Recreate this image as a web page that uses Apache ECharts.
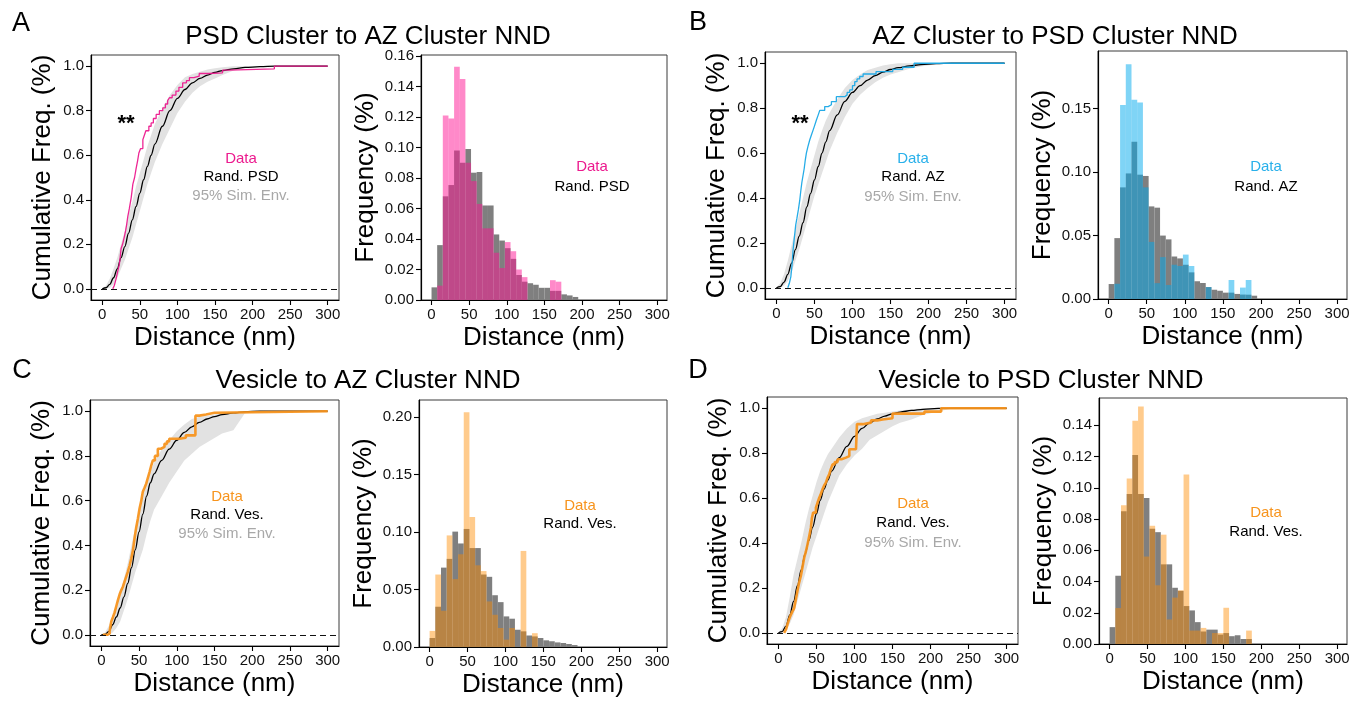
<!DOCTYPE html>
<html><head><meta charset="utf-8">
<script src="https://cdn.jsdelivr.net/npm/echarts@6/dist/echarts.min.js"></script>
<style>html,body{margin:0;padding:0;background:#fff}#c{width:1366px;height:705px}</style>
</head><body><div id="c"></div>
<script>
const FONT = '"Liberation Sans", Arial, Helvetica, sans-serif';
const BIN_WIDTH = 7.5;
const xTicks = [0, 50, 100, 150, 200, 250, 300];
const cdfYTicks = [0, 0.2, 0.4, 0.6, 0.8, 1.0];
const histYTicksA = [0, 0.02, 0.04, 0.06, 0.08, 0.10, 0.12, 0.14, 0.16];
const histYTicksB = [0, 0.05, 0.10, 0.15];
const histYTicksC = [0, 0.05, 0.10, 0.15, 0.20];
const histYTicksD = [0, 0.02, 0.04, 0.06, 0.08, 0.10, 0.12, 0.14];

// common x grid for simulated curves (nm)
const simX = [0,5,10,15,20,25,30,35,40,45,50,55,60,65,70,80,90,100,110,120,130,140,150,160,175,190,210,230];

// ---------- Panel A: PSD Cluster to AZ Cluster NND ----------
const aRand  = [0,0.005,0.02,0.05,0.09,0.14,0.19,0.25,0.31,0.37,0.43,0.49,0.55,0.60,0.65,0.73,0.80,0.855,0.895,0.925,0.945,0.96,0.972,0.98,0.988,0.994,0.998,1.0];
const aEnvUp = [0,0.015,0.045,0.09,0.14,0.2,0.26,0.33,0.39,0.46,0.52,0.58,0.64,0.69,0.74,0.81,0.87,0.915,0.95,0.965,0.975,0.985,0.99,0.995,1,1,1,1];
const aEnvLo = [0,0,0.005,0.02,0.05,0.09,0.13,0.18,0.23,0.29,0.35,0.41,0.47,0.52,0.57,0.65,0.72,0.79,0.84,0.88,0.91,0.93,0.945,0.96,0.98,0.99,0.997,1];
const aDataX = [14,16,18,20,22,23,25,27,29.6,31,32.5,34,36,38.5,40.7,43,45,47,48.7,51,54,56,58,62,65,68,71.7,76,80.5,84,87,89.4,93,98,102,107,112,116,122,129,142,160,169,229,300];
const aDataY = [0,0.015,0.04,0.07,0.1,0.117,0.18,0.2,0.237,0.26,0.29,0.326,0.36,0.41,0.47,0.5,0.54,0.575,0.61,0.63,0.67,0.69,0.71,0.73,0.745,0.765,0.783,0.8,0.813,0.83,0.845,0.858,0.87,0.888,0.905,0.925,0.935,0.948,0.955,0.967,0.97,0.982,0.988,1.0,1.0];
const aHistRand = [0.0083,0.036,0.068,0.0754,0.098,0.090,0.099,0.0835,0.084,0.062,0.062,0.043,0.039,0.034,0.027,0.0164,0.012,0.011,0.010,0.008,0.008,0.006,0.006,0.0037,0.003,0.002];
const aHistData = [0,0.0094,0.121,0.119,0.153,0.145,0.090,0.078,0.063,0.047,0.047,0.031,0.021,0.038,0.032,0.020,0.015,0,0,0,0,0.013,0.012,0,0,0];

// ---------- Panel B: AZ Cluster to PSD Cluster NND ----------
const bRand  = [0,0.005,0.025,0.06,0.11,0.17,0.23,0.29,0.36,0.42,0.48,0.54,0.60,0.65,0.70,0.77,0.83,0.87,0.90,0.925,0.945,0.96,0.972,0.98,0.988,0.994,0.998,1];
const bEnvUp = [0,0.02,0.06,0.12,0.19,0.26,0.33,0.40,0.47,0.53,0.59,0.65,0.70,0.745,0.78,0.84,0.89,0.925,0.95,0.97,0.98,0.99,0.995,1,1,1,1,1];
const bEnvLo = [0,0,0.01,0.03,0.07,0.12,0.17,0.23,0.29,0.35,0.41,0.46,0.51,0.56,0.61,0.69,0.76,0.82,0.86,0.89,0.915,0.935,0.95,0.96,0.975,0.985,0.995,1];
const bDataX = [15,17,19,20.5,21.9,23.5,25.4,27,29,30.7,32,33.5,35,36.5,38,39.4,41.5,43.8,46,48,50,52.6,55,57,63.5,68,72.3,78.8,89.8,93,96.4,100,103,106,109.5,114,131,153,166,181,300];
const bDataY = [0,0.02,0.05,0.1,0.168,0.22,0.28,0.31,0.35,0.39,0.43,0.47,0.5,0.53,0.57,0.6,0.63,0.658,0.68,0.70,0.72,0.747,0.77,0.79,0.807,0.815,0.829,0.851,0.859,0.87,0.881,0.9,0.918,0.93,0.941,0.952,0.963,0.973,0.982,1.0,1.0];
const bHistRand = [0.0118,0.048,0.088,0.099,0.124,0.098,0.097,0.073,0.072,0.05,0.047,0.0335,0.032,0.027,0.021,0.014,0.0126,0.0094,0.0073,0.0065,0.005,0.005,0.004,0.0035,0.0034,0.0026];
const bHistData = [0,0.012,0.153,0.185,0.157,0.155,0.088,0.045,0.0125,0.033,0.011,0.027,0.026,0.035,0.026,0,0,0.0094,0,0,0,0.015,0,0.009,0.015,0];

// ---------- Panel C: Vesicle to AZ Cluster NND ----------
const cRand  = [0,0.002,0.015,0.045,0.08,0.12,0.17,0.23,0.30,0.38,0.46,0.54,0.62,0.68,0.72,0.78,0.83,0.87,0.905,0.93,0.95,0.965,0.976,0.985,0.992,0.997,1,1];
const cEnvUp = [0,0.01,0.04,0.08,0.13,0.19,0.25,0.32,0.40,0.48,0.55,0.62,0.68,0.73,0.77,0.83,0.87,0.91,0.94,0.965,0.975,0.98,0.985,0.99,0.996,1,1,1];
const cEnvLo = [0,0,0,0.01,0.03,0.06,0.11,0.16,0.22,0.28,0.33,0.38,0.45,0.51,0.56,0.62,0.68,0.73,0.78,0.81,0.84,0.86,0.88,0.9,0.915,0.99,1,1];
const cDataX = [2,8,11,13.2,15.5,17.6,20,22,24.2,26.5,28.6,31,33,35,37.5,39.6,42,44,46,48.5,50.7,53,55,57,59.5,61.5,63.9,66,68.3,71,74.9,79,83.7,87,90,103.5,112,124.7,130,138.8,150,300];
const cDataY = [0,0.005,0.015,0.06,0.08,0.1,0.13,0.155,0.18,0.2,0.215,0.24,0.26,0.28,0.31,0.34,0.38,0.43,0.475,0.52,0.565,0.6,0.64,0.655,0.676,0.7,0.728,0.755,0.78,0.8,0.832,0.84,0.854,0.865,0.877,0.881,0.892,0.98,0.985,0.993,1.0,1.0];
const cHistRand = [0.0078,0.035,0.069,0.0766,0.1003,0.09,0.1026,0.086,0.086,0.063,0.061,0.045,0.039,0.0266,0.0246,0.015,0.0136,0.01,0.0092,0.0078,0.0058,0.005,0.004,0.0035,0.0026,0.0017];
const cHistData = [0.014,0.063,0.0315,0.097,0.059,0.0806,0.204,0.113,0.071,0.066,0.0396,0.028,0.0165,0.0064,0.0165,0,0.0835,0,0.012,0,0,0,0,0,0,0];

// ---------- Panel D: Vesicle to PSD Cluster NND ----------
const dRand  = [0,0.005,0.03,0.08,0.14,0.21,0.28,0.35,0.41,0.47,0.53,0.59,0.64,0.68,0.72,0.78,0.83,0.875,0.91,0.935,0.952,0.965,0.975,0.983,0.99,0.995,0.999,1];
const dEnvUp = [0,0.02,0.07,0.16,0.26,0.33,0.40,0.48,0.55,0.61,0.67,0.72,0.76,0.795,0.82,0.87,0.91,0.94,0.955,0.965,0.975,0.98,0.985,0.99,0.995,1,1,1];
const dEnvLo = [0,0,0.01,0.04,0.08,0.14,0.2,0.26,0.32,0.38,0.43,0.48,0.53,0.58,0.62,0.7,0.75,0.79,0.82,0.86,0.88,0.9,0.92,0.935,0.95,0.97,0.985,1];
const dDataX = [7.5,10,11.9,14,16.3,18.5,20.7,23,25,27,29.5,31.5,33.9,36,38.3,40.5,42.7,44,45.7,49.3,51.5,53.6,56,58,60,62.4,64.5,66.8,69,71.2,74,77.8,83,88.8,93.2,102,103.3,110.8,121.8,130,137,150,192,214,300];
const dDataY = [0,0.015,0.037,0.06,0.08,0.095,0.11,0.15,0.186,0.22,0.253,0.29,0.334,0.36,0.394,0.43,0.468,0.51,0.535,0.557,0.58,0.60,0.62,0.639,0.655,0.669,0.69,0.706,0.73,0.75,0.76,0.773,0.78,0.787,0.817,0.825,0.929,0.936,0.946,0.95,0.955,0.976,0.985,1.0,1.0];
const dHistRand = [0.0108,0.0437,0.085,0.096,0.121,0.096,0.0935,0.0738,0.0716,0.051,0.051,0.036,0.034,0.0243,0.0215,0.014,0.008,0.0092,0.0092,0.006,0.007,0.005,0.0056,0.0032,0.0032,0];
const dHistData = [0,0.023,0.0888,0.106,0.143,0.152,0.056,0.0757,0.0376,0.07,0.0157,0.0297,0.0344,0.1086,0.0086,0.0086,0.0103,0,0.007,0.007,0.0232,0,0,0,0.0086,0];

// ---------- layout ----------
const grids = [
  {left: 91,   top: 55,  width: 248, height: 245},   // A cdf
  {left: 421,  top: 55,  width: 246, height: 245},   // A hist
  {left: 765,  top: 52,  width: 251, height: 247},   // B cdf
  {left: 1098, top: 51,  width: 249, height: 248},   // B hist
  {left: 90,   top: 400, width: 249, height: 246},   // C cdf
  {left: 419,  top: 400, width: 248, height: 247},   // C hist
  {left: 767,  top: 397, width: 251, height: 247},   // D cdf
  {left: 1099, top: 398, width: 248, height: 246}    // D hist
];

const panels = [
  {cdf: {rand: aRand, up: aEnvUp, lo: aEnvLo, dx: aDataX, dy: aDataY}, hist: {rand: aHistRand, data: aHistData, ticks: histYTicksA, max: 0.1607},
   line: '#ec1a8e', fill: 'rgba(255,20,147,0.5)', text: '#ec1a8e', lw: 1.3, lbl: 'Rand. PSD'},
  {cdf: {rand: bRand, up: bEnvUp, lo: bEnvLo, dx: bDataX, dy: bDataY}, hist: {rand: bHistRand, data: bHistData, ticks: histYTicksB, max: 0.1955},
   line: '#1aa8e6', fill: 'rgba(0,170,238,0.5)', text: '#29b0ea', lw: 1.3, lbl: 'Rand. AZ'},
  {cdf: {rand: cRand, up: cEnvUp, lo: cEnvLo, dx: cDataX, dy: cDataY}, hist: {rand: cHistRand, data: cHistData, ticks: histYTicksC, max: 0.2147},
   line: '#f7931e', fill: 'rgba(255,140,0,0.45)', text: '#f7941d', lw: 2.6, lbl: 'Rand. Ves.'},
  {cdf: {rand: dRand, up: dEnvUp, lo: dEnvLo, dx: dDataX, dy: dDataY}, hist: {rand: dHistRand, data: dHistData, ticks: histYTicksD, max: 0.1575},
   line: '#f7931e', fill: 'rgba(255,140,0,0.45)', text: '#f7941d', lw: 2.6, lbl: 'Rand. Ves.'}
];

const gridOpts = grids.map(g => Object.assign({}, g, {
  show: true, borderColor: '#3a3a3a', borderWidth: 1, backgroundColor: 'rgba(0,0,0,0)', outerBoundsMode: 'none', containLabel: false
}));

function xAxisFor(gi, isHist) {
  return {
    type: 'value', gridIndex: gi, min: isHist ? -14 : -15, max: isHist ? 313 : 315,
    axisLine: {show: true, onZero: false, lineStyle: {color: '#000', width: 1.2}},
    axisTick: {show: true, inside: false, length: 5, customValues: xTicks, lineStyle: {color: '#000', width: 1.1}},
    axisLabel: {show: true, customValues: xTicks, fontSize: 15, color: '#111', fontFamily: FONT, margin: 7},
    splitLine: {show: false},
    name: 'Distance (nm)', nameLocation: 'middle', nameGap: 25,
    nameTextStyle: {fontSize: 26, color: '#000', fontFamily: FONT}
  };
}
function yAxisFor(gi, ticks, min, max, digits, name, gap) {
  return {
    type: 'value', gridIndex: gi, min: min, max: max,
    axisLine: {show: true, onZero: false, lineStyle: {color: '#000', width: 1.2}},
    axisTick: {show: true, inside: false, length: 5, customValues: ticks, lineStyle: {color: '#000', width: 1.1}},
    axisLabel: {show: true, customValues: ticks, fontSize: 15, color: '#111', fontFamily: FONT, margin: 7,
      formatter: v => Number(v).toFixed(digits)},
    splitLine: {show: false},
    name: name, nameLocation: 'middle', nameGap: gap,
    nameTextStyle: {fontSize: 26, color: '#000', fontFamily: FONT}
  };
}

const xAxes = [], yAxes = [], series = [];

panels.forEach((p, pi) => {
  const gC = pi * 2, gH = pi * 2 + 1;
  xAxes.push(xAxisFor(gC, false));
  xAxes.push(xAxisFor(gH, true));
  yAxes.push(yAxisFor(gC, cdfYTicks, -0.05, 1.05, 1, 'Cumulative Freq. (%)', 35));
  yAxes.push(yAxisFor(gH, p.hist.ticks, 0, p.hist.max, 2, 'Frequency (%)', 42));

  const up = p.cdf.up, lo = p.cdf.lo;
  // 95% simulation envelope
  series.push({
    type: 'custom', xAxisIndex: gC, yAxisIndex: gC, silent: true, z: 1, clip: true,
    data: simX.map((x, k) => [x, lo[k], up[k]]),
    encode: {x: 0, y: [1, 2]},
    renderItem: (params, api) => {
      if (params.dataIndex !== 0) return null;
      const pts = [];
      for (let k = 0; k < simX.length; k++) pts.push(api.coord([simX[k], up[k]]));
      pts.push(api.coord([300, 1]));
      for (let k = simX.length - 1; k >= 0; k--) pts.push(api.coord([simX[k], lo[k]]));
      return {type: 'polygon', shape: {points: pts}, style: {fill: '#e2e2e2'}};
    }
  });
  // random (simulated mean) curve
  series.push({
    type: 'line', xAxisIndex: gC, yAxisIndex: gC, z: 3, symbol: 'none', silent: true,
    smooth: 0.35, smoothMonotone: 'x',
    data: simX.map((x, k) => [x, p.cdf.rand[k]]).concat([[300, 1]]),
    lineStyle: {color: '#000', width: 1.3},
    markLine: {silent: true, symbol: ['none', 'none'], label: {show: false}, animation: false,
      lineStyle: {color: '#111', type: [6, 4], width: 1.2}, data: [{yAxis: 0}]}
  });
  // data ECDF
  series.push({
    type: 'line', xAxisIndex: gC, yAxisIndex: gC, z: 4, symbol: 'none', silent: true, step: 'end',
    data: p.cdf.dx.map((x, k) => [x, p.cdf.dy[k]]),
    lineStyle: {color: p.line, width: p.lw, opacity: 0.95}
  });

  // histograms
  const barSeries = (vals, color, z) => ({
    type: 'custom', xAxisIndex: gH, yAxisIndex: gH, silent: true, z: z, clip: true,
    data: vals.map((h, k) => [k * BIN_WIDTH, h]),
    encode: {x: 0, y: 1},
    renderItem: (params, api) => {
      const x0 = api.value(0), h = api.value(1);
      if (!h) return null;
      const a = api.coord([x0, h]), b = api.coord([x0 + BIN_WIDTH, 0]);
      return {type: 'rect', shape: {x: a[0], y: a[1], width: b[0] - a[0], height: b[1] - a[1]}, style: {fill: color}};
    }
  });
  series.push(barSeries(p.hist.rand, '#7f7f7f', 2));
  series.push(barSeries(p.hist.data, p.fill, 3));
});

// ---------- texts ----------
const txt = (s, x, y, size, color, weight) => ({
  type: 'text', x: x, y: y, silent: true, z: 100,
  style: {text: s, fontSize: size, fontFamily: FONT, fill: color, fontWeight: weight || 'normal', align: 'center', verticalAlign: 'middle'}
});
const graphics = [
  txt('A', 21, 24, 27, '#000'), txt('B', 698, 23, 27, '#000'),
  txt('C', 22, 371, 27, '#000'), txt('D', 698, 371, 27, '#000'),
  txt('PSD Cluster to AZ Cluster NND', 368, 37, 26, '#000'),
  txt('AZ Cluster to PSD Cluster NND', 1055, 37, 26, '#000'),
  txt('Vesicle to AZ Cluster NND', 368, 381, 26, '#000'),
  txt('Vesicle to PSD Cluster NND', 1041, 381, 26, '#000'),
  txt('**', 126, 124, 22, '#000', 'bold'), txt('**', 800, 124, 22, '#000', 'bold'),
  // CDF legends
  txt('Data', 241, 159, 15, panels[0].text), txt('Rand. PSD', 241, 177, 15, '#000'), txt('95% Sim. Env.', 241, 196, 15, '#a8a8a8'),
  txt('Data', 913, 159, 15, panels[1].text), txt('Rand. AZ', 913, 177, 15, '#000'), txt('95% Sim. Env.', 913, 197, 15, '#a8a8a8'),
  txt('Data', 227, 497, 15, panels[2].text), txt('Rand. Ves.', 227, 515, 15, '#000'), txt('95% Sim. Env.', 227, 534, 15, '#a8a8a8'),
  txt('Data', 913, 504, 15, panels[3].text), txt('Rand. Ves.', 913, 523, 15, '#000'), txt('95% Sim. Env.', 913, 543, 15, '#a8a8a8'),
  // histogram legends
  txt('Data', 592, 167, 15, panels[0].text), txt('Rand. PSD', 592, 187, 15, '#000'),
  txt('Data', 1266, 167, 15, panels[1].text), txt('Rand. AZ', 1266, 187, 15, '#000'),
  txt('Data', 580, 506, 15, panels[2].text), txt('Rand. Ves.', 580, 524, 15, '#000'),
  txt('Data', 1266, 513, 15, panels[3].text), txt('Rand. Ves.', 1266, 532, 15, '#000')
];

const chart = echarts.init(document.getElementById('c'), null, {renderer: 'canvas'});
chart.setOption({
  animation: false,
  backgroundColor: '#fff',
  grid: gridOpts,
  xAxis: xAxes,
  yAxis: yAxes,
  series: series,
  graphic: graphics
});
</script></body></html>
